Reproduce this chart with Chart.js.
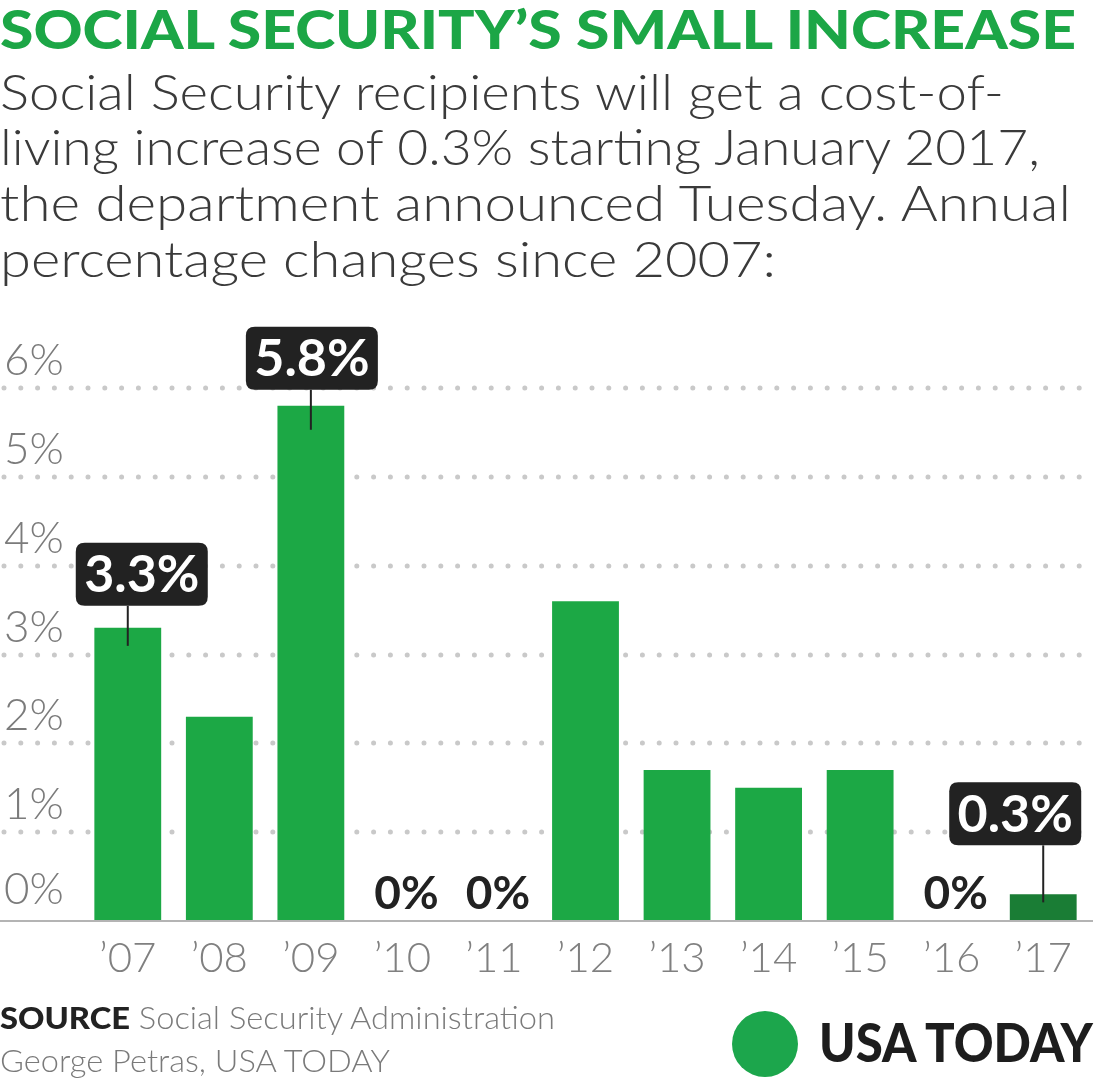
<!DOCTYPE html>
<html>
<head>
<meta charset="utf-8">
<script src="https://cdn.jsdelivr.net/npm/chart.js@4/dist/chart.umd.min.js"></script>
<style>
  html, body { margin:0; padding:0; background:#fff; }
  #wrap { position:relative; width:1105px; height:1085px; overflow:hidden; background:#fff; }
  #chart { position:absolute; left:0; top:0; }
  .t { position:absolute; left:0; top:0; white-space:nowrap; display:inline-block; transform-origin:0 0; }
  .bl { display:inline-block; width:0; height:0; vertical-align:baseline; }
  #title { font-family:Lato, sans-serif; font-weight:900; font-size:53px; color:#1ca646; }
  .sub { font-family:Lato, sans-serif; font-weight:300; font-size:50px; color:#3a3a3a; }
  .foot { font-family:Lato, sans-serif; font-weight:300; font-size:31px; color:#7a7a7a; }
  .foot b { font-weight:900; color:#222; }
  #logo { font-family:Lato, sans-serif; font-weight:900; font-size:53px; color:#1d1d1d; }
  #dot { position:absolute; left:732px; top:1011px; width:66px; height:66px; border-radius:50%; background:#1ca64c; }
</style>
</head>
<body>
<div id="wrap">
  <canvas id="chart" width="1105" height="1085"></canvas>
  <div class="t" id="title">SOCIAL SECURITY’S SMALL INCREASE<span class="bl"></span></div>
  <div class="t sub" id="s1">Social Security recipients will get a cost-of-<span class="bl"></span></div>
  <div class="t sub" id="s2">living increase of 0.3% starting January 2017,<span class="bl"></span></div>
  <div class="t sub" id="s3">the department announced Tuesday. Annual<span class="bl"></span></div>
  <div class="t sub" id="s4">percentage changes since 2007:<span class="bl"></span></div>
  <div class="t foot" id="f1"><b>SOURCE</b> Social Security Administration<span class="bl"></span></div>
  <div class="t foot" id="f2">George Petras, USA TODAY<span class="bl"></span></div>
  <div id="dot"></div>
  <div class="t" id="logo">USA TODAY<span class="bl"></span></div>
</div>
<script>
// ---- data ----
const years = ['’07','’08','’09','’10','’11','’12','’13','’14','’15','’16','’17'];
const cola = [3.3, 2.3, 5.8, 0, 0, 3.6, 1.7, 1.5, 1.7, 0, 0.3];
const yTicks = [0, 1, 2, 3, 4, 5, 6];
const calloutIdx = [0, 2, 10];

// ---- styles ----
const GREEN = '#1ca845';
const DARK_GREEN = '#1a7d35';
const barColors = cola.map((v, i) => i === cola.length - 1 ? DARK_GREEN : GREEN);
// callout placement (style only): x offset of box from bar centre, gap box-bottom to bar top, leader depth into bar
const calloutStyle = { 0: {dx: 14, gap: 22, depth: 18}, 2: {dx: 1, gap: 16, depth: 24}, 10: {dx: -28, gap: 49, depth: 8} };

function rr(ctx, x, y, w, h, r) {
  ctx.beginPath();
  ctx.moveTo(x + r, y);
  ctx.lineTo(x + w - r, y); ctx.quadraticCurveTo(x + w, y, x + w, y + r);
  ctx.lineTo(x + w, y + h - r); ctx.quadraticCurveTo(x + w, y + h, x + w - r, y + h);
  ctx.lineTo(x + r, y + h); ctx.quadraticCurveTo(x, y + h, x, y + h - r);
  ctx.lineTo(x, y + r); ctx.quadraticCurveTo(x, y, x + r, y);
  ctx.closePath();
}

const decor = {
  id: 'decor',
  beforeDatasetsDraw(chart) {
    const ctx = chart.ctx, y = chart.scales.y, area = chart.chartArea;
    ctx.save();
    // dotted grid lines
    ctx.strokeStyle = '#c9c9c9';
    ctx.lineWidth = 5;
    ctx.lineCap = 'round';
    ctx.setLineDash([0, 16.8]);
    yTicks.forEach(t => {
      if (t === 0) return;
      const py = Math.round(y.getPixelForValue(t));
      ctx.beginPath();
      ctx.moveTo(4, py);
      ctx.lineTo(area.right + 4, py);
      ctx.stroke();
    });
    ctx.setLineDash([]);
    // y labels
    ctx.fillStyle = '#7b7b7b';
    ctx.font = '300 44px Lato, sans-serif';
    ctx.textAlign = 'left';
    ctx.textBaseline = 'alphabetic';
    yTicks.forEach(t => {
      const py = y.getPixelForValue(t);
      ctx.fillText(t + '%', 4, py - (t === 0 ? 17 : 13));
    });
    ctx.restore();
  },
  afterDatasetsDraw(chart) {
    const ctx = chart.ctx, x = chart.scales.x, y = chart.scales.y, area = chart.chartArea;
    ctx.save();
    // baseline
    const by = y.getPixelForValue(0);
    ctx.strokeStyle = '#b4b4b4';
    ctx.lineWidth = 2;
    ctx.beginPath(); ctx.moveTo(0, by); ctx.lineTo(area.right + 4, by); ctx.stroke();
    // x labels
    ctx.fillStyle = '#808080';
    ctx.font = '300 42px Lato, sans-serif';
    ctx.textAlign = 'center';
    ctx.textBaseline = 'alphabetic';
    years.forEach((lab, i) => ctx.fillText(lab, x.getPixelForValue(i), 972));
    // zero labels
    ctx.fillStyle = '#222';
    ctx.font = '700 46px Lato, sans-serif';
    cola.forEach((v, i) => { if (v === 0) ctx.fillText('0%', x.getPixelForValue(i) + 4, by - 12); });
    // callouts
    calloutIdx.forEach(i => {
      const s = calloutStyle[i];
      const cx = x.getPixelForValue(i);
      const top = y.getPixelForValue(cola[i]);
      const bw = 132, bh = 63;
      const boxBottom = top - s.gap;
      const bx = cx + s.dx - bw / 2, byy = boxBottom - bh;
      ctx.strokeStyle = '#222';
      ctx.lineWidth = 2;
      ctx.beginPath(); ctx.moveTo(cx, boxBottom); ctx.lineTo(cx, top + s.depth); ctx.stroke();
      ctx.fillStyle = '#222';
      rr(ctx, bx, byy, bw, bh, 9);
      ctx.fill();
      ctx.fillStyle = '#fff';
      ctx.font = '700 52px Lato, sans-serif';
      ctx.textAlign = 'center';
      ctx.fillText(cola[i] + '%', bx + bw / 2, byy + bh / 2 + 18);
    });
    ctx.restore();
  }
};

new Chart(document.getElementById('chart'), {
  type: 'bar',
  data: {
    labels: years,
    datasets: [{ data: cola, backgroundColor: barColors, borderWidth: 0, barPercentage: 0.73, categoryPercentage: 1 }]
  },
  options: {
    responsive: false,
    animation: false,
    layout: { padding: { left: 82, right: 16, top: 388, bottom: 164 } },
    scales: {
      x: { display: false },
      y: { display: false, min: 0, max: 6 }
    },
    plugins: { legend: { display: false }, tooltip: { enabled: false } }
  },
  plugins: [decor]
});

// ---- HTML text placement ----
function place(id, left, baseline, width) {
  const el = document.getElementById(id);
  el.style.transform = 'none';
  el.style.left = left + 'px';
  el.style.top = '0px';
  const m = el.querySelector('.bl').getBoundingClientRect();
  const e = el.getBoundingClientRect();
  el.style.top = (baseline - (m.top - e.top)) + 'px';
  if (width) {
    const w = e.width;
    el.style.transform = 'scaleX(' + (width / w) + ')';
  }
}
function layoutText() {
  place('title', 0, 49, 1076);
  place('s1', 0, 110, 1004);
  place('s2', 0, 165, 1040);
  place('s3', 0, 221, 1071);
  place('s4', 0, 277, 776);
  place('f1', 0, 1029, 555);
  place('f2', 0, 1072, 390);
  place('logo', 819, 1062, 274);
}
layoutText();
if (document.fonts && document.fonts.ready) document.fonts.ready.then(layoutText);
</script>
</body>
</html>
